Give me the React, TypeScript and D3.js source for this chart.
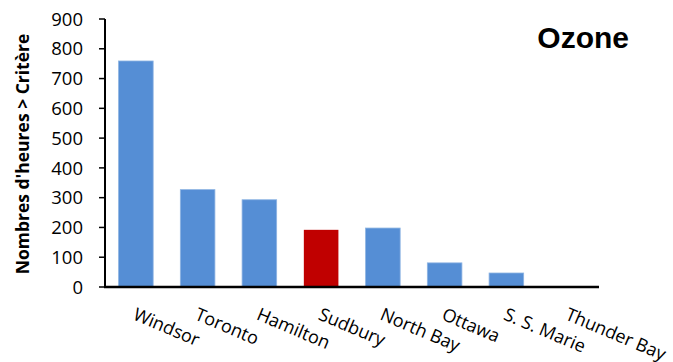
import * as d3 from "d3";
import React from "react";

const cities = ["Windsor", "Toronto", "Hamilton", "Sudbury", "North Bay", "Ottawa", "S. S. Marie", "Thunder Bay"];
const hours = [759, 327, 293, 192, 198, 81, 47, 0];
const highlight = "Sudbury";
const yTicks = [0, 100, 200, 300, 400, 500, 600, 700, 800, 900];

const W = 673;
const H = 362;
const margin = { left: 105, right: 74, top: 19, bottom: 75 };

const App = () => {
  const x = d3
    .scaleBand()
    .domain(cities)
    .range([margin.left, W - margin.right])
    .paddingInner(0.44)
    .paddingOuter(0.22);

  const y = d3
    .scaleLinear()
    .domain([0, 900])
    .range([H - margin.bottom, margin.top]);

  const y0 = y(0);

  return (
    <svg
      width={W}
      height={H}
      style={{ position: "absolute", left: 0, top: 0, display: "block", background: "#fff" }}
    >
      {/* bars */}
      {cities.map((c, i) => (
        <rect
          key={c}
          x={x(c)}
          y={y(hours[i])}
          width={x.bandwidth()}
          height={y0 - y(hours[i])}
          fill={c === highlight ? "#C00000" : "#558ED5"}
          stroke={c === highlight ? "none" : "#8DB4E2"}
          strokeWidth={0.8}
        />
      ))}

      {/* y axis */}
      <line x1={margin.left} x2={margin.left} y1={y(900)} y2={y0} stroke="#000" strokeWidth={2} />
      {yTicks.map((t) => (
        <g key={t}>
          <line x1={margin.left - 6} x2={margin.left} y1={y(t)} y2={y(t)} stroke="#000" strokeWidth={1.5} />
          <text
            x={83}
            y={y(t)}
            dy="0.36em"
            textAnchor="end"
            fontFamily="Open Sans"
            fontSize={18.5}
            fill="#000"
          >
            {t}
          </text>
        </g>
      ))}

      {/* x axis */}
      <line x1={margin.left - 1} x2={W - margin.right} y1={y0} y2={y0} stroke="#000" strokeWidth={2.5} />
      {cities.map((c) => (
        <text
          key={c}
          transform={`translate(${x(c)! + x.bandwidth() / 2 - 4}, ${y0 + 32}) rotate(23)`}
          fontFamily="Open Sans"
          fontSize={18}
          fill="#000"
        >
          {c}
        </text>
      ))}

      {/* y title */}
      <text
        transform={`translate(29, ${154}) rotate(-90)`}
        textAnchor="middle"
        fontFamily="Open Sans"
        fontWeight="bold"
        fontSize={17.5}
        fill="#000"
      >
        Nombres d'heures &gt; Critère
      </text>

      {/* title */}
      <text
        x={629}
        y={48}
        textAnchor="end"
        fontFamily="Liberation Sans"
        fontWeight="bold"
        fontSize={30}
        fill="#000"
      >
        Ozone
      </text>
    </svg>
  );
};

export default App;
